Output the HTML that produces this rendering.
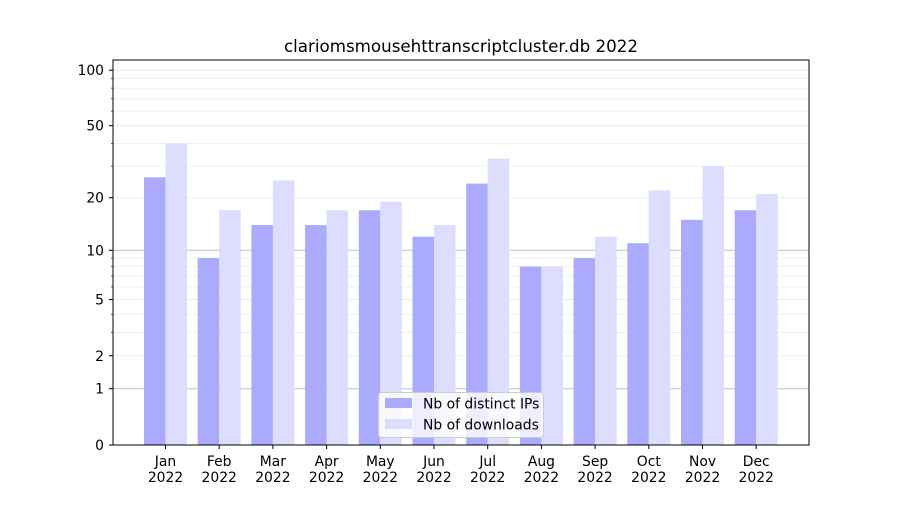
<!DOCTYPE html>
<html><head><meta charset="utf-8"><style>
body{margin:0;background:#fff;}
svg text{font-family:"DejaVu Sans","Liberation Sans",sans-serif;fill:#000;}
</style></head><body>
<svg id="s" width="900" height="500" xmlns="http://www.w3.org/2000/svg"></svg>
<script>
const s=document.getElementById('s');
function Y(v){return 445-187*Math.log10(1+v);}
let h='';
h+='<text x="461" y="52" font-size="16.7" text-anchor="middle">clariomsmousehttranscriptcluster.db 2022</text>';
const minors=[3,4,6,7,8,9,30,40,60,70,80,90];
minors.forEach(v=>{h+=`<line x1="113" x2="809" y1="${Y(v)}" y2="${Y(v)}" stroke="#eeeeee" stroke-width="0.8"/>`;});
[2,5,20,50,100].forEach(v=>{h+=`<line x1="113" x2="809" y1="${Y(v)}" y2="${Y(v)}" stroke="#e6e6e6" stroke-width="0.8"/>`;});
[1,10].forEach(v=>{h+=`<line x1="113" x2="809" y1="${Y(v)}" y2="${Y(v)}" stroke="#c0c0c0" stroke-width="1"/>`;});
const ips=[26,9,14,14,17,12,24,8,9,11,15,17];
const dl=[40,17,25,17,19,14,33,8,12,22,30,21];
const m=['Jan','Feb','Mar','Apr','May','Jun','Jul','Aug','Sep','Oct','Nov','Dec'];
for(let i=0;i<12;i++){
 const c=165.5+i*53.7;
 h+=`<rect x="${c-21.5}" y="${Y(ips[i])}" width="21.5" height="${445-Y(ips[i])}" fill="#aaaaff"/>`;
 h+=`<rect x="${c}" y="${Y(dl[i])}" width="21.5" height="${445-Y(dl[i])}" fill="#ddddff"/>`;
 h+=`<line x1="${c}" x2="${c}" y1="445" y2="449" stroke="#000"/>`;
 h+=`<text x="${c}" y="466" font-size="13.9" text-anchor="middle">${m[i]}</text>`;
 h+=`<text x="${c}" y="482" font-size="13.9" text-anchor="middle">2022</text>`;
}
[[0,'0'],[1,'1'],[2,'2'],[5,'5'],[10,'10'],[20,'20'],[50,'50'],[100,'100']].forEach(([v,t])=>{
 const y=Y(v);
 h+=`<line x1="109" x2="113" y1="${y}" y2="${y}" stroke="#000"/>`;
 h+=`<text x="104" y="${y+5}" font-size="13.9" text-anchor="end">${t}</text>`;
});
minors.forEach(v=>{h+=`<line x1="111" x2="113" y1="${Y(v)}" y2="${Y(v)}" stroke="#000" stroke-width="0.6"/>`;});
h+='<rect x="113" y="60" width="696" height="385" fill="none" stroke="#000" stroke-width="1"/>';
h+='<rect x="378.5" y="392.5" width="165" height="45" rx="3" fill="#fff" fill-opacity="0.8" stroke="#cccccc"/>';
h+='<rect x="385" y="398" width="27" height="10" fill="#aaaaff"/>';
h+='<text x="423" y="408.5" font-size="13.9">Nb of distinct IPs</text>';
h+='<rect x="385" y="419" width="27" height="10" fill="#ddddff"/>';
h+='<text x="423" y="429.5" font-size="13.9">Nb of downloads</text>';
s.innerHTML=h;
</script>
</body></html>
